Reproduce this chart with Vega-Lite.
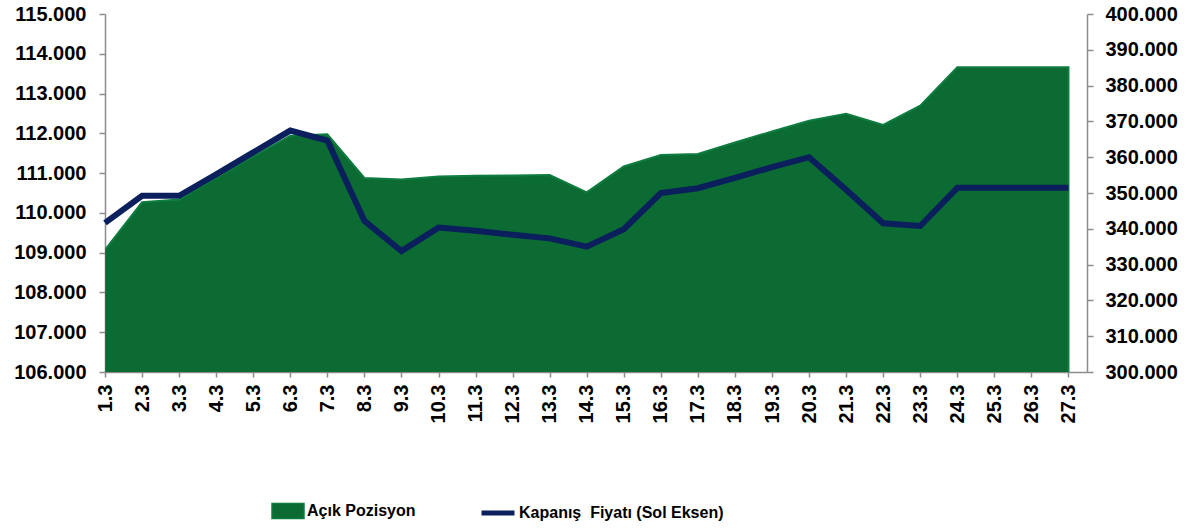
{
  "$schema": "https://vega.github.io/schema/vega-lite/v6.json",
  "width": 982,
  "height": 358,
  "autosize": {"type": "none"},
  "padding": {"left": 105, "top": 14, "right": 101, "bottom": 156},
  "background": "white",
  "config": {
    "view": {"stroke": null},
    "font": "Liberation Sans",
    "axis": {
      "labelFont": "Liberation Sans",
      "labelFontSize": 20,
      "labelFontWeight": "bold",
      "labelColor": "#000000",
      "domainColor": "#8c8c8c",
      "domainWidth": 1.5,
      "tickColor": "#8c8c8c",
      "tickWidth": 1.5,
      "grid": false,
      "title": null,
      "labelOverlap": false,
      "labelFlush": false
    }
  },
  "data": {
    "values": [
      {"gun": 1, "tarih": "1.3", "kapanis": 109750, "acik_pozisyon": 334100},
      {"gun": 2, "tarih": "2.3", "kapanis": 110430, "acik_pozisyon": 347400},
      {"gun": 3, "tarih": "3.3", "kapanis": 110430, "acik_pozisyon": 348200},
      {"gun": 4, "tarih": "4.3", "kapanis": 110970, "acik_pozisyon": 354200},
      {"gun": 5, "tarih": "5.3", "kapanis": 111520, "acik_pozisyon": 360200},
      {"gun": 6, "tarih": "6.3", "kapanis": 112070, "acik_pozisyon": 366000},
      {"gun": 7, "tarih": "7.3", "kapanis": 111820, "acik_pozisyon": 366400},
      {"gun": 8, "tarih": "8.3", "kapanis": 109800, "acik_pozisyon": 354200},
      {"gun": 9, "tarih": "9.3", "kapanis": 109040, "acik_pozisyon": 353800},
      {"gun": 10, "tarih": "10.3", "kapanis": 109630, "acik_pozisyon": 354600},
      {"gun": 11, "tarih": "11.3", "kapanis": 109550, "acik_pozisyon": 354800},
      {"gun": 12, "tarih": "12.3", "kapanis": 109450, "acik_pozisyon": 354900},
      {"gun": 13, "tarih": "13.3", "kapanis": 109360, "acik_pozisyon": 355000},
      {"gun": 14, "tarih": "14.3", "kapanis": 109150, "acik_pozisyon": 350200},
      {"gun": 15, "tarih": "15.3", "kapanis": 109590, "acik_pozisyon": 357400},
      {"gun": 16, "tarih": "16.3", "kapanis": 110500, "acik_pozisyon": 360600},
      {"gun": 17, "tarih": "17.3", "kapanis": 110620, "acik_pozisyon": 360900},
      {"gun": 18, "tarih": "18.3", "kapanis": 110880, "acik_pozisyon": 364100},
      {"gun": 19, "tarih": "19.3", "kapanis": 111150, "acik_pozisyon": 367200},
      {"gun": 20, "tarih": "20.3", "kapanis": 111400, "acik_pozisyon": 370200},
      {"gun": 21, "tarih": "21.3", "kapanis": 110580, "acik_pozisyon": 372100},
      {"gun": 22, "tarih": "22.3", "kapanis": 109740, "acik_pozisyon": 369000},
      {"gun": 23, "tarih": "23.3", "kapanis": 109670, "acik_pozisyon": 374400},
      {"gun": 24, "tarih": "24.3", "kapanis": 110630, "acik_pozisyon": 385100},
      {"gun": 25, "tarih": "25.3", "kapanis": 110630, "acik_pozisyon": 385100},
      {"gun": 26, "tarih": "26.3", "kapanis": 110630, "acik_pozisyon": 385100},
      {"gun": 27, "tarih": "27.3", "kapanis": 110630, "acik_pozisyon": 385100}
    ]
  },
  "encoding": {
    "x": {
      "field": "gun",
      "type": "quantitative",
      "scale": {"domain": [1, 27.5], "nice": false, "zero": false},
      "axis": {
        "values": [1, 2, 3, 4, 5, 6, 7, 8, 9, 10, 11, 12, 13, 14, 15, 16, 17, 18, 19, 20, 21, 22, 23, 24, 25, 26, 27],
        "labelExpr": "datum.value + '.3'",
        "labelAngle": 270,
        "labelAlign": "right",
        "labelBaseline": "middle",
        "tickSize": 5,
        "labelPadding": 7,
        "labelFlush": false,
        "labelOverlap": false,
        "labelBound": false
      }
    }
  },
  "layer": [
    {
      "mark": {"type": "area", "fill": "#0B6B33", "stroke": "#0E7D3F", "strokeWidth": 2, "clip": true},
      "encoding": {
        "y": {
          "field": "acik_pozisyon",
          "type": "quantitative",
          "scale": {"domain": [300000, 400000], "nice": false, "zero": false},
          "axis": {
            "orient": "right",
            "values": [300000, 310000, 320000, 330000, 340000, 350000, 360000, 370000, 380000, 390000, 400000],
            "labelExpr": "replace(format(datum.value, ','), ',', '.')",
            "tickSize": 6,
            "labelPadding": 12
          }
        },
        "fill": {
          "datum": "Açık Pozisyon",
          "scale": {"range": ["#0B6B33"]},
          "legend": {
            "orient": "none",
            "legendX": 166,
            "legendY": 480,
            "title": null,
            "symbolType": "M-1,-0.47H1V0.47H-1Z",
            "symbolSize": 1024,
            "symbolStrokeColor": "#0E7D3F",
            "symbolStrokeWidth": 1.5,
            "labelFont": "Liberation Sans",
            "labelFontSize": 16,
            "labelFontWeight": "bold",
            "labelColor": "#000000",
            "labelOffset": 2,
            "labelLimit": 0
          }
        }
      }
    },
    {
      "mark": {"type": "line", "stroke": "#0A1F5C", "strokeWidth": 6, "strokeJoin": "miter"},
      "encoding": {
        "y": {
          "field": "kapanis",
          "type": "quantitative",
          "scale": {"domain": [106000, 115000], "nice": false, "zero": false},
          "axis": {
            "orient": "left",
            "values": [106000, 107000, 108000, 109000, 110000, 111000, 112000, 113000, 114000, 115000],
            "labelExpr": "replace(format(datum.value, ','), ',', '.')",
            "tickSize": 6,
            "labelPadding": 13
          }
        },
        "stroke": {
          "datum": "Kapanış\u00a0 Fiyatı (Sol Eksen)",
          "scale": {"range": ["#0A1F5C"]},
          "legend": {
            "orient": "none",
            "legendX": 374,
            "legendY": 480,
            "title": null,
            "symbolType": "stroke",
            "symbolSize": 1089,
            "symbolStrokeWidth": 5,
            "labelFont": "Liberation Sans",
            "labelFontSize": 16,
            "labelFontWeight": "bold",
            "labelColor": "#000000",
            "labelOffset": 2,
            "labelLimit": 0
          }
        }
      }
    }
  ],
  "resolve": {"scale": {"y": "independent", "fill": "independent", "stroke": "independent"}}
}
